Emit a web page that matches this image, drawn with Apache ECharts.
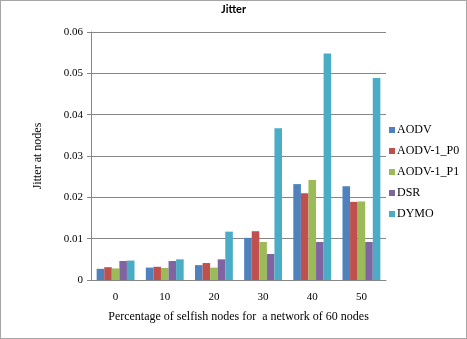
<!DOCTYPE html>
<html>
<head>
<meta charset="utf-8">
<script src="https://cdn.jsdelivr.net/npm/echarts@6/dist/echarts.min.js"></script>
<style>
  html, body { margin: 0; padding: 0; background: #fff; }
  #chart { width: 465px; height: 337px; border: 1px solid #a6a6a6; }
</style>
</head>
<body>
<div id="chart"></div>
<script>
const categories = ['0', '10', '20', '30', '40', '50'];
const seriesNames = ['AODV', 'AODV-1_P0', 'AODV-1_P1', 'DSR', 'DYMO'];
const aodv   = [0.0027, 0.0030, 0.0036, 0.0102, 0.0232, 0.0227];
const aodvP0 = [0.0031, 0.0032, 0.0041, 0.0118, 0.0210, 0.0189];
const aodvP1 = [0.0028, 0.0029, 0.0030, 0.0092, 0.0242, 0.0190];
const dsr    = [0.0046, 0.0046, 0.0050, 0.0063, 0.0092, 0.0092];
const dymo   = [0.0047, 0.0050, 0.0117, 0.0367, 0.0548, 0.0489];
const colors = ['#4f81bd', '#c0504d', '#9bbb59', '#8064a2', '#4bacc6'];

const serif = '"Liberation Serif", "DejaVu Serif", serif';
const chart = echarts.init(document.getElementById('chart'));
const allData = [aodv, aodvP0, aodvP1, dsr, dymo];

chart.setOption({
  animation: false,
  color: colors,
  title: {
    text: 'Jitter',
    left: 220,
    top: 3,
    padding: 0,
    textStyle: { fontFamily: 'Lato, "Open Sans", sans-serif', fontSize: 11, fontWeight: 'bold', color: '#000' }
  },
  legend: {
    orient: 'vertical',
    left: 383,
    top: 118,
    itemWidth: 6,
    itemHeight: 6,
    itemGap: 9,
    icon: 'rect',
    textStyle: { fontFamily: serif, fontSize: 12, color: '#000', padding: [0, 0, 0, -3] },
    data: seriesNames
  },
  grid: { left: 90, right: 80, top: 31, bottom: 58, containLabel: false },
  xAxis: {
    type: 'category',
    data: categories,
    name: 'Percentage of selfish nodes for  a network of 60 nodes',
    nameLocation: 'middle',
    nameGap: 31,
    nameMoveOverlap: false,
    nameTextStyle: { fontFamily: serif, fontSize: 12, color: '#000' },
    axisLine: { lineStyle: { color: '#868686' } },
    axisTick: { lineStyle: { color: '#868686' }, length: 4 },
    axisLabel: { fontFamily: serif, fontSize: 11, color: '#000', margin: 12 }
  },
  yAxis: {
    type: 'value',
    min: 0,
    max: 0.06,
    interval: 0.01,
    name: 'Jitter at nodes',
    nameLocation: 'middle',
    nameGap: 47,
    nameMoveOverlap: false,
    nameTextStyle: { fontFamily: serif, fontSize: 12, color: '#000' },
    axisLine: { show: true, lineStyle: { color: '#868686' } },
    axisTick: { show: true, lineStyle: { color: '#868686' }, length: 4 },
    axisLabel: { fontFamily: serif, fontSize: 11, color: '#000', margin: 8 },
    splitLine: { lineStyle: { color: '#868686' } }
  },
  series: seriesNames.map((name, i) => ({
    name: name,
    type: 'bar',
    data: allData[i],
    barGap: '0%',
    barCategoryGap: '23%'
  }))
});
</script>
</body>
</html>
